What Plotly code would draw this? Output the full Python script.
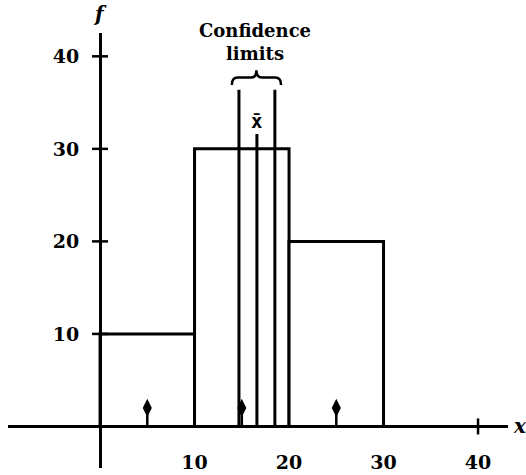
import plotly.graph_objects as go

# Frequency histogram: class boundaries, midpoints and frequencies
class_mid = [5, 15, 25]
class_freq = [10, 30, 20]
class_width = 10

# Sample mean and its confidence limits
x_bar = 16.6
conf_limits = [14.7, 18.5]

# Axis tick values and labels
x_tick_vals = [10, 20, 30, 40]
x_tick_text = ["10", "20", "30", "40"]
y_tick_vals = [10, 20, 30, 40]
y_tick_text = ["10", "20", "30", "40"]

# Styling constants
X_RANGE = [-9.74, 43.17]
Y_RANGE = [-4.49, 42.52]
LW = 3
CL_TOP = 36.4
XBAR_TOP = 31.6
ARROW_LEN = 2.0
FONT = "DejaVu Serif"


def px(v):
    return (v - X_RANGE[0]) / (X_RANGE[1] - X_RANGE[0])


def py(v):
    return (v - Y_RANGE[0]) / (Y_RANGE[1] - Y_RANGE[0])


fig = go.Figure()

# Histogram bars (white fill, black outline)
fig.add_trace(go.Bar(
    x=class_mid, y=class_freq, width=class_width,
    marker=dict(color="white", line=dict(color="black", width=LW)),
    hoverinfo="skip",
))

# Confidence limit lines
for c in conf_limits:
    fig.add_trace(go.Scatter(x=[c, c], y=[0, CL_TOP], mode="lines",
                             line=dict(color="black", width=LW), hoverinfo="skip"))

# Mean line
fig.add_trace(go.Scatter(x=[x_bar, x_bar], y=[0, XBAR_TOP], mode="lines",
                         line=dict(color="black", width=LW), hoverinfo="skip"))

# Small arrows marking the class midpoints
for m in class_mid:
    fig.add_trace(go.Scatter(x=[m, m], y=[0, ARROW_LEN], mode="lines",
                             line=dict(color="black", width=2.5), hoverinfo="skip"))
fig.add_trace(go.Scatter(
    x=class_mid, y=[ARROW_LEN] * len(class_mid), mode="markers",
    marker=dict(symbol="diamond-tall", size=13, color="black"),
    hoverinfo="skip",
))

# Curly brace over the confidence limits
xl = conf_limits[0] - 0.75
xr = conf_limits[1] + 0.65
xm = (xl + xr) / 2
yb, ym, yp = 36.9, 37.7, 38.5
brace = (f"M {xl},{yb} Q {xl},{ym} {xl + 0.6},{ym} L {xm - 0.6},{ym} "
         f"Q {xm},{ym} {xm},{yp} Q {xm},{ym} {xm + 0.6},{ym} "
         f"L {xr - 0.6},{ym} Q {xr},{ym} {xr},{yb}")
shapes = [dict(type="path", path=brace, xref="x", yref="y",
               line=dict(color="black", width=2.5))]

# Cross-shaped tick marks
for v in y_tick_vals:
    shapes.append(dict(type="line", xref="x", yref="y", xsizemode="pixel",
                       xanchor=0, x0=-8, x1=8, y0=v, y1=v,
                       line=dict(color="black", width=2.5)))
shapes.append(dict(type="line", xref="x", yref="y", ysizemode="pixel",
                   yanchor=0, y0=-8, y1=8, x0=x_tick_vals[-1], x1=x_tick_vals[-1],
                   line=dict(color="black", width=2.5)))

axis_label_font = dict(family=FONT, size=20, color="black",
                       style="italic", weight="bold")

annotations = [
    dict(x=(conf_limits[0] + conf_limits[1]) / 2 - 0.2, y=41.5, xref="x", yref="y",
         text="<b>Confidence<br>limits</b>", showarrow=False,
         font=dict(family=FONT, size=18, color="black")),
    dict(x=x_bar, y=33.0, xref="x", yref="y", text="<b>x\u0304</b>", showarrow=False,
         font=dict(family="DejaVu Sans Mono", size=19, color="black")),
    dict(x=px(0), y=py(44.6), xref="paper", yref="paper", text="f",
         xanchor="center", yanchor="middle",
         showarrow=False, font=axis_label_font),
    dict(x=px(44.4), y=py(0), xref="paper", yref="paper", text="x",
         xanchor="center", yanchor="middle",
         showarrow=False, font=axis_label_font),
]

fig.update_layout(
    width=526, height=475,
    margin=dict(l=8, r=18, t=33, b=2),
    paper_bgcolor="white", plot_bgcolor="white",
    showlegend=False,
    shapes=shapes, annotations=annotations,
    xaxis=dict(range=X_RANGE, anchor="free", position=py(0),
               showline=True, linecolor="black", linewidth=LW,
               showgrid=False, zeroline=False, ticks="",
               tickvals=x_tick_vals, ticktext=x_tick_text,
               ticklabelstandoff=18,
               tickfont=dict(family=FONT, size=19, color="black", weight="bold")),
    yaxis=dict(range=Y_RANGE, anchor="free", position=px(0),
               showline=True, linecolor="black", linewidth=LW,
               showgrid=False, zeroline=False, ticks="",
               tickvals=y_tick_vals, ticktext=y_tick_text,
               ticklabelstandoff=16,
               tickfont=dict(family=FONT, size=19, color="black", weight="bold")),
)

fig.write_html("out.html")
